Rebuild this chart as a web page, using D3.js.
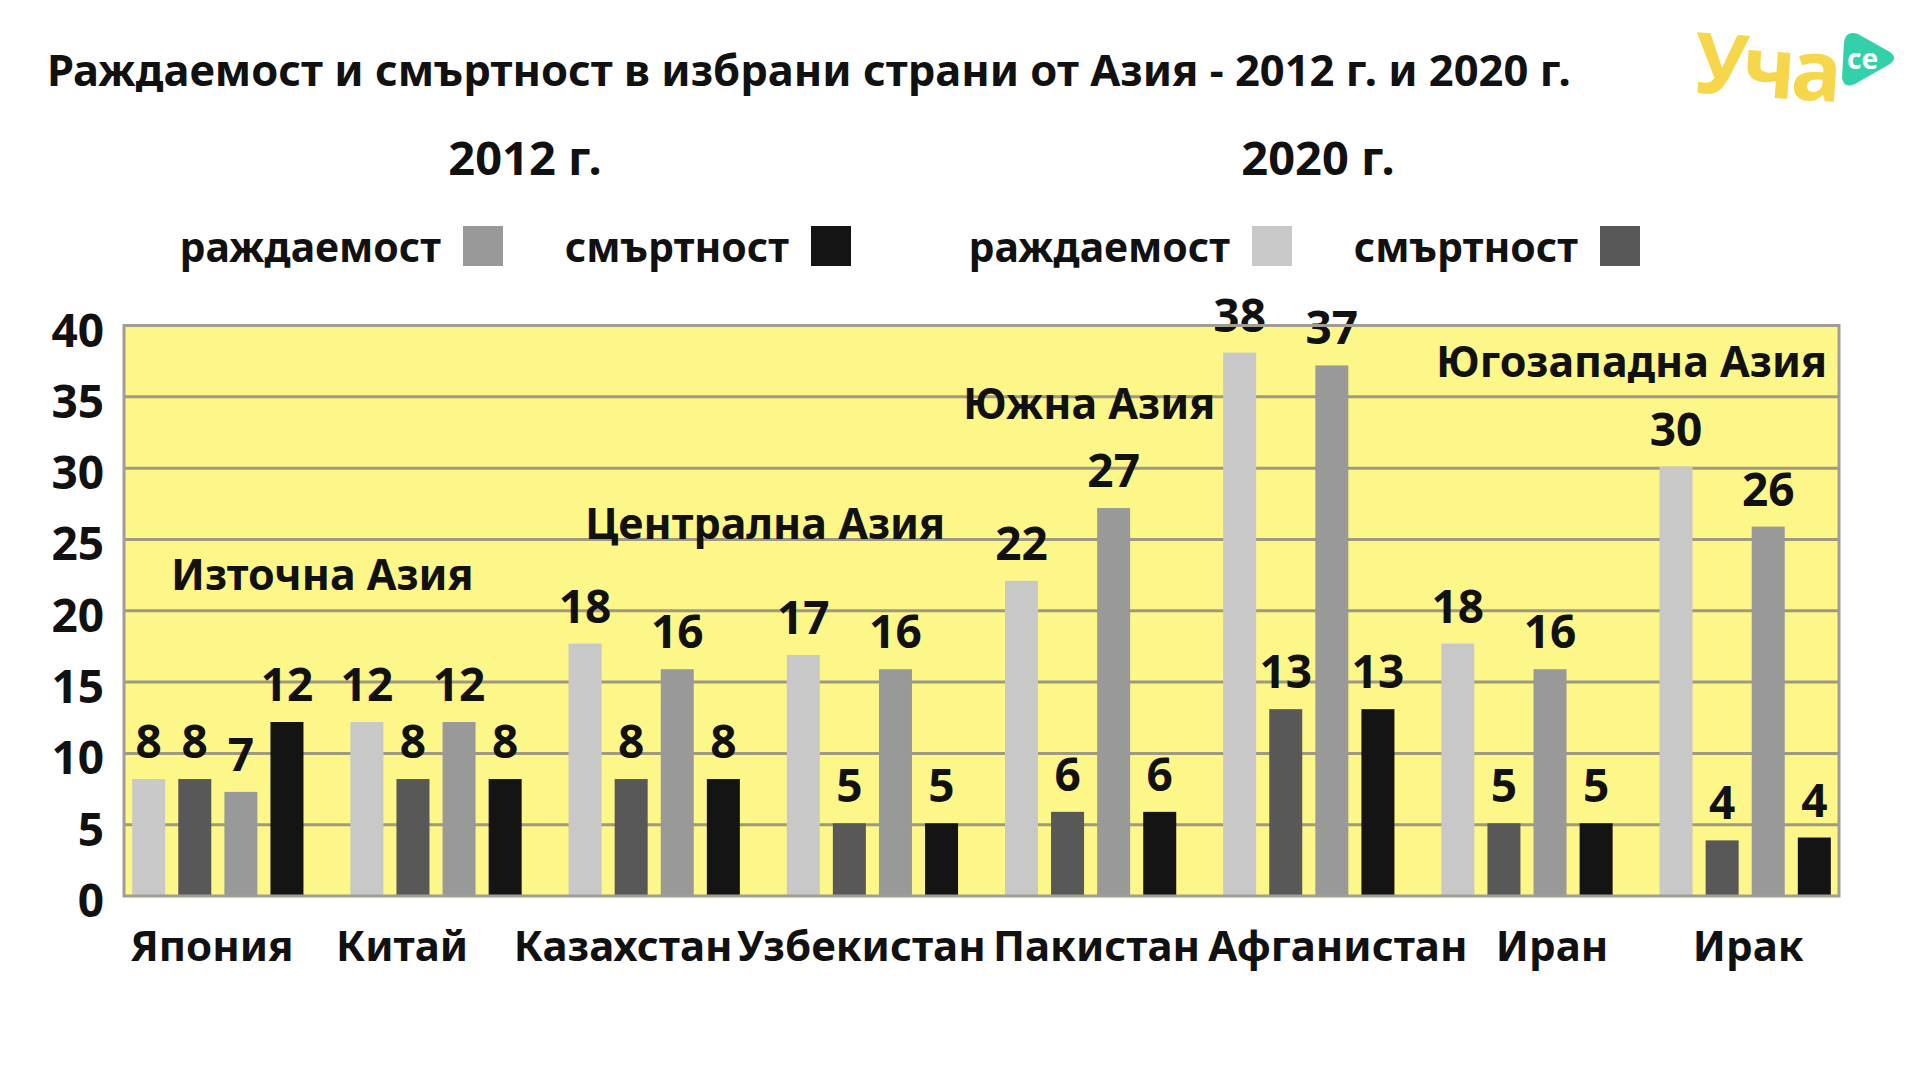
<!DOCTYPE html>
<html lang="bg">
<head>
<meta charset="UTF-8">
<title>Раждаемост и смъртност в избрани страни от Азия</title>
<script src="https://d3js.org/d3.v7.min.js"></script>
<style>
    body { margin: 0; background: #fff; }
    svg { display: block; }
    text { font-family: "Noto Sans", "Open Sans", sans-serif; font-weight: 700; fill: #111; }
</style>
</head>
<body>
<svg width="1920" height="1080"></svg>
<script>
// data
const countries = ["Япония", "Китай", "Казахстан", "Узбекистан", "Пакистан", "Афганистан", "Иран", "Ирак"];
const birth2020 = [8.2, 12.2, 17.7, 16.9, 22.1, 38.1, 17.7, 30.1];
const death2020 = [8.2, 8.2, 8.2, 5.1, 5.9, 13.1, 5.1, 3.9];
const birth2012 = [7.3, 12.2, 15.9, 15.9, 27.2, 37.2, 15.9, 25.9];
const death2012 = [12.2, 8.2, 8.2, 5.1, 5.9, 13.1, 5.1, 4.1];
const seriesKeys = ["b2020", "d2020", "b2012", "d2012"];
const yTicks = [0, 5, 10, 15, 20, 25, 30, 35, 40];
const regions = ["Източна Азия", "Централна Азия", "Южна Азия", "Югозападна Азия"];

const colors = {b2020: "#c8c8c8", d2020: "#585858", b2012: "#999999", d2012: "#141414"};
const seriesValues = {b2020: birth2020, d2020: death2020, b2012: birth2012, d2012: death2012};

const svg = d3.select("svg");
const plotLeft = 124, plotRight = 1839, plotTop = 325.5, plotBottom = 896;

// title + headers
svg.append("text").attr("x", 47).attr("y", 86).attr("font-size", 43.5)
    .text("Раждаемост и смъртност в избрани страни от Азия - 2012 г. и 2020 г.");
svg.append("text").attr("x", 525).attr("y", 175).attr("font-size", 47).attr("text-anchor", "middle").text("2012 г.");
svg.append("text").attr("x", 1318).attr("y", 175).attr("font-size", 47).attr("text-anchor", "middle").text("2020 г.");

// legend
const legendItems = [
    {label: "раждаемост", key: "b2012", x: 463},
    {label: "смъртност", key: "d2012", x: 811},
    {label: "раждаемост", key: "b2020", x: 1252},
    {label: "смъртност", key: "d2020", x: 1600}
];
const lg = svg.append("g").selectAll("g").data(legendItems).join("g");
lg.append("rect").attr("x", d => d.x).attr("y", 226).attr("width", 40).attr("height", 40)
    .attr("fill", d => colors[d.key]);
lg.append("text").attr("x", d => d.x - 22).attr("y", 262).attr("font-size", 41)
    .attr("text-anchor", "end").text(d => d.label);

// scales
const x0 = d3.scaleBand().domain(countries).range([plotLeft, plotRight])
    .paddingInner(0.215).paddingOuter(0.0375);
const x1 = d3.scaleBand().domain(seriesKeys).range([0, x0.bandwidth()]).paddingInner(0.284);
const y = d3.scaleLinear().domain([0, 40]).range([plotBottom, plotTop]);

// plot background
svg.append("rect").attr("x", plotLeft).attr("y", plotTop)
    .attr("width", plotRight - plotLeft).attr("height", plotBottom - plotTop)
    .attr("fill", "#fdf78a");

svg.append("g").selectAll("line").data(yTicks.slice(1, -1)).join("line")
    .attr("x1", plotLeft).attr("x2", plotRight)
    .attr("y1", d => y(d)).attr("y2", d => y(d))
    .attr("stroke", "#9e9a82").attr("stroke-width", 3);

// bars
const groups = svg.append("g").selectAll("g").data(countries).join("g")
    .attr("transform", d => `translate(${x0(d)},0)`);

const cells = groups.selectAll("g")
    .data((c, i) => seriesKeys.map(k => ({key: k, value: seriesValues[k][i]})))
    .join("g");

cells.append("rect")
    .attr("x", d => x1(d.key)).attr("width", x1.bandwidth())
    .attr("y", d => y(d.value)).attr("height", d => y(0) - y(d.value))
    .attr("fill", d => colors[d.key]);

cells.append("text")
    .attr("x", d => x1(d.key) + x1.bandwidth() / 2)
    .attr("y", d => y(d.value) - 21)
    .attr("text-anchor", "middle").attr("font-size", 46)
    .text(d => Math.round(d.value));

// frame
svg.append("rect").attr("x", plotLeft).attr("y", plotTop)
    .attr("width", plotRight - plotLeft).attr("height", plotBottom - plotTop)
    .attr("fill", "none").attr("stroke", "#a09e94").attr("stroke-width", 3);

// y axis labels
svg.append("g").selectAll("text").data(yTicks).join("text")
    .attr("x", 104).attr("y", d => y(d) + 21)
    .attr("text-anchor", "end").attr("font-size", 46)
    .text(d => d);

// country labels, nudged sideways like the original so long names don't collide
const labelNudge = [-6, -34, -31, -11, 6, 29, 25, 3];
svg.append("g").selectAll("text").data(countries).join("text")
    .attr("x", (d, i) => x0(d) + x0.bandwidth() / 2 + labelNudge[i]).attr("y", 961)
    .attr("text-anchor", "middle").attr("font-size", 42)
    .attr("textLength", null)
    .text(d => d);

// region notes
const regionPos = [[171, 590, "start"], [585, 539, "start"], [963, 419, "start"], [1827, 377, "end"]];
svg.append("g").selectAll("text").data(regions).join("text")
    .attr("x", (d, i) => regionPos[i][0]).attr("y", (d, i) => regionPos[i][1])
    .attr("text-anchor", (d, i) => regionPos[i][2]).attr("font-size", 43)
    .text(d => d);

// logo
const logo = svg.append("g").attr("transform", "translate(1692,92)");
logo.append("text").attr("x", 0).attr("y", 0).attr("font-size", 84).attr("font-weight", 900)
    .attr("letter-spacing", -4).attr("transform", "rotate(4)")
    .style("fill", "#f6d64b").text("Уча");
logo.append("path")
    .attr("d", "M152,-50 Q154,-62 166,-58 L198,-40 Q206,-34 198,-28 L163,-8 Q152,-3 150,-14 Z")
    .attr("fill", "#33d1aa");
logo.append("text").attr("x", 155).attr("y", -23).attr("font-size", 28)
    .style("fill", "#fff").text("ce");
</script>
</body>
</html>
